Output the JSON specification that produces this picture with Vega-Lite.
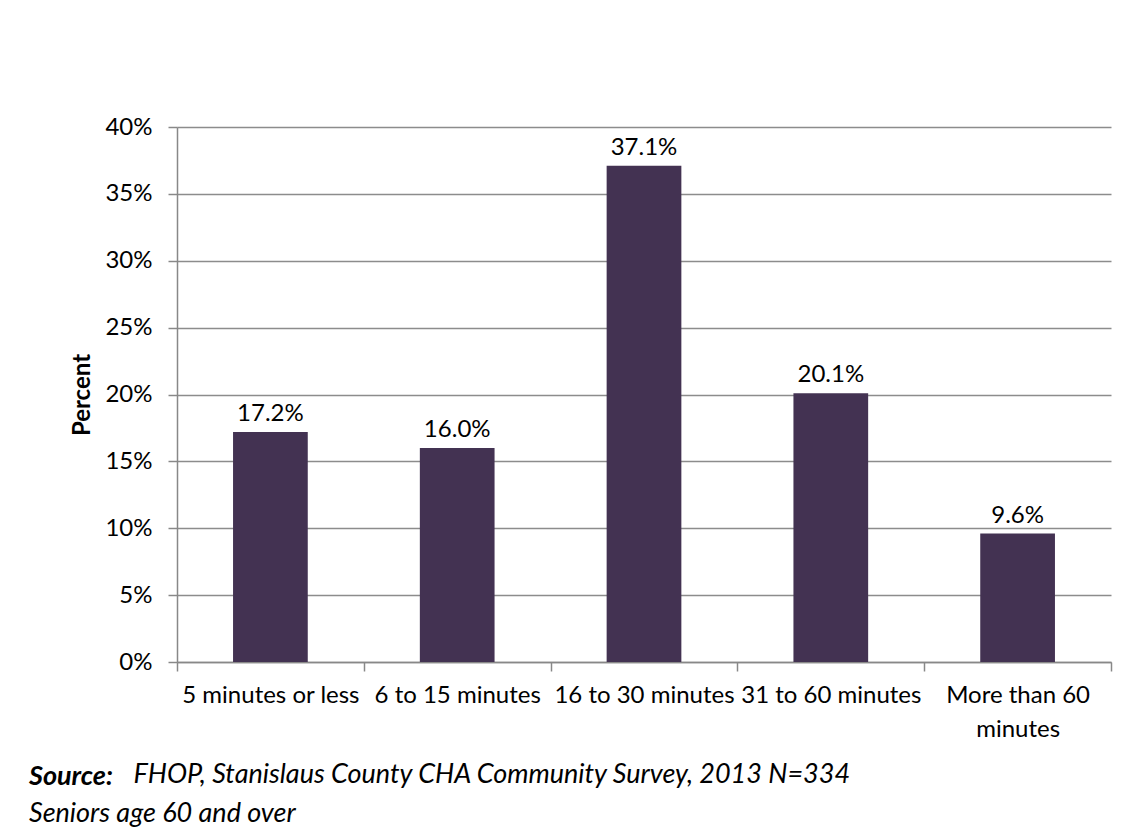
{
  "$schema": "https://vega.github.io/schema/vega-lite/v6.json",
  "width": 934,
  "height": 535,
  "autosize": {"type": "none"},
  "padding": {"left": 177, "top": 127, "right": 17, "bottom": 165},
  "background": "white",
  "config": {"view": {"stroke": null}, "font": "Lato"},
  "data": {"values": [
    {"category": "5 minutes or less", "value": 0.172},
    {"category": "6 to 15 minutes", "value": 0.160},
    {"category": "16 to 30 minutes", "value": 0.371},
    {"category": "31 to 60 minutes", "value": 0.201},
    {"category": "More than 60 minutes", "value": 0.096}
  ]},
  "title": {
    "text": "Source:",
    "subtitle": "Seniors age 60 and over",
    "orient": "bottom",
    "anchor": "start",
    "frame": "group",
    "dx": -148,
    "offset": -23,
    "font": "Lato",
    "fontSize": 27,
    "fontStyle": "italic",
    "fontWeight": "bold",
    "color": "#000000",
    "subtitleFont": "Lato",
    "subtitleFontSize": 27,
    "subtitleFontStyle": "italic",
    "subtitleFontWeight": "normal",
    "subtitleColor": "#000000",
    "subtitlePadding": 10
  },
  "encoding": {
    "x": {
      "field": "category",
      "type": "nominal",
      "sort": null,
      "scale": {"paddingInner": 0, "paddingOuter": 0},
      "axis": {
        "labelAngle": 0,
        "tickBand": "extent",
        "domainColor": "#888888",
        "domainWidth": 1.5,
        "tickColor": "#888888",
        "tickWidth": 1.5,
        "tickSize": 9,
        "labelFont": "Lato",
        "labelFontSize": 24,
        "labelColor": "#000000",
        "labelPadding": 12,
        "labelLineHeight": 34,
        "labelLimit": 300,
        "labelExpr": "datum.label == 'More than 60 minutes' ? ['More than 60', 'minutes'] : datum.label",
        "title": "FHOP, Stanislaus County CHA Community Survey, 2013 N=334",
        "titleFont": "Lato",
        "titleFontSize": 27,
        "titleFontStyle": "italic",
        "titleFontWeight": "normal",
        "titleColor": "#000000",
        "titleAnchor": "start",
        "titleAlign": "left",
        "titleBaseline": "alphabetic",
        "titleX": -44,
        "titleY": 120
      }
    },
    "y": {
      "field": "value",
      "type": "quantitative",
      "scale": {"domain": [0, 0.4]},
      "axis": {
        "values": [0, 0.05, 0.1, 0.15, 0.2, 0.25, 0.3, 0.35, 0.4],
        "format": ".0%",
        "grid": true,
        "gridColor": "#8c8c8c",
        "gridWidth": 1.5,
        "domainColor": "#888888",
        "domainWidth": 1.5,
        "tickColor": "#888888",
        "tickWidth": 1.5,
        "tickSize": 9,
        "labelFont": "Lato",
        "labelFontSize": 24,
        "labelColor": "#000000",
        "labelPadding": 16,
        "title": "Percent",
        "titleFont": "Lato",
        "titleFontSize": 24,
        "titleFontWeight": "bold",
        "titleColor": "#000000",
        "titlePadding": 10
      }
    }
  },
  "layer": [
    {
      "mark": {"type": "bar", "color": "#433252", "width": {"band": 0.4}}
    },
    {
      "mark": {"type": "text", "baseline": "bottom", "dy": -6, "fontSize": 24, "font": "Lato", "color": "#000000"},
      "encoding": {"text": {"field": "value", "type": "quantitative", "format": ".1%"}}
    }
  ]
}
